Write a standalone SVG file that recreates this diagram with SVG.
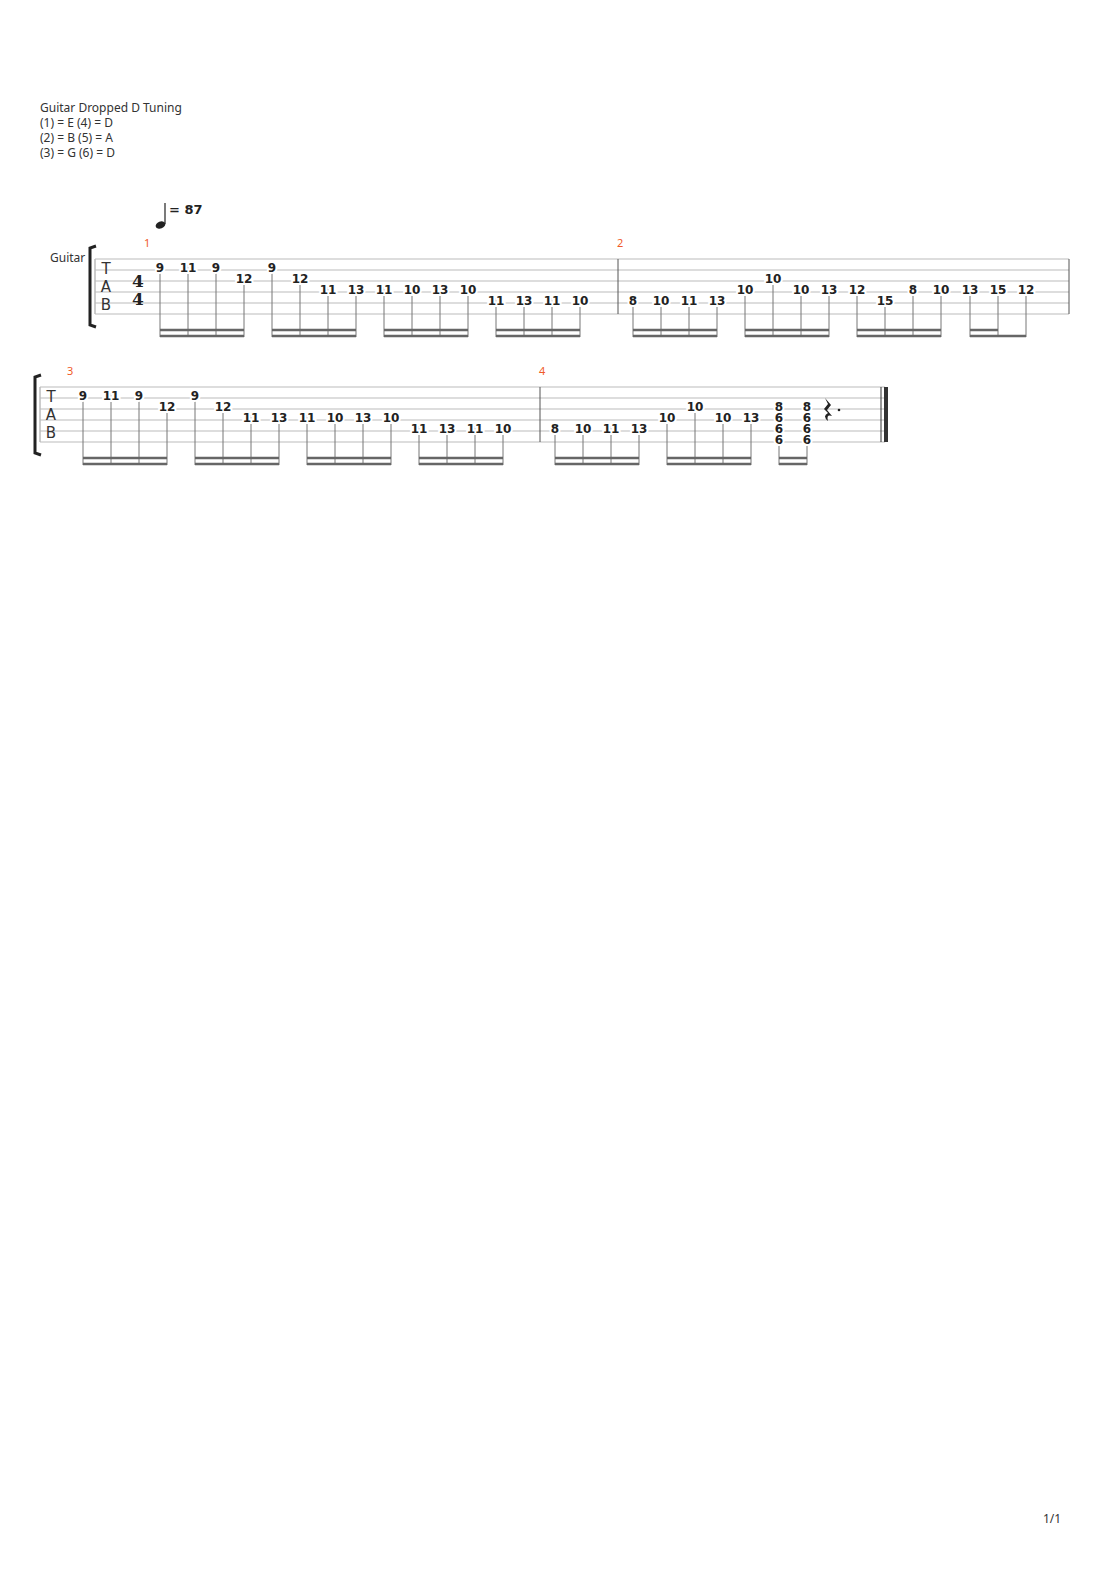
<svg xmlns="http://www.w3.org/2000/svg" width="1110" height="1570" viewBox="0 0 1110 1570">
<style>
.h{font-family:"Noto Sans","DejaVu Sans",sans-serif;font-size:12px;fill:#333}
.n{font-family:"DejaVu Sans",sans-serif;font-size:12px;font-weight:bold;fill:#222;text-anchor:middle;paint-order:stroke;stroke:#fff;stroke-width:4px}
.m{font-family:"Noto Sans",sans-serif;font-size:11px;fill:#f05a28}
.st line{stroke:#bbb;stroke-width:1}
.stem{stroke:#777;stroke-width:1}
.bm{stroke:#666;stroke-width:2.5}
.tab{font-family:"DejaVu Sans",sans-serif;font-size:15px;fill:#333;text-anchor:middle}
.ts{font-family:"DejaVu Serif",serif;font-size:17px;font-weight:bold;fill:#222;text-anchor:middle}
</style>
<rect width="1110" height="1570" fill="#fff"/>
<g id="header">
<text class="h" x="40" y="112">Guitar Dropped D Tuning</text>
<text class="h" x="40" y="127">(1) = E (4) = D</text>
<text class="h" x="40" y="142">(2) = B (5) = A</text>
<text class="h" x="40" y="157">(3) = G (6) = D</text>
<text class="h" x="1043" y="1523">1/1</text>
</g>
<g id="tempo">
<line x1="165" y1="203" x2="165" y2="224" stroke="#222" stroke-width="1.2"/>
<ellipse cx="160.5" cy="225" rx="5" ry="3.5" transform="rotate(-20 160.5 225)" fill="#222"/>
<text x="169" y="214" font-family="DejaVu Sans,sans-serif" font-size="13" font-weight="bold" fill="#222">= 87</text>
<text class="h" x="50" y="262">Guitar</text>
</g>
<g id="system1">
<path d="M96 246 L90 248 L90 325 L96 327" fill="none" stroke="#222" stroke-width="3"/>
<line x1="95" y1="259" x2="95" y2="314" stroke="#999"/>
<g class="st"><line x1="95" y1="259" x2="1069" y2="259"/><line x1="95" y1="270" x2="1069" y2="270"/><line x1="95" y1="281" x2="1069" y2="281"/><line x1="95" y1="292" x2="1069" y2="292"/><line x1="95" y1="303" x2="1069" y2="303"/><line x1="95" y1="314" x2="1069" y2="314"/></g>
<text class="tab" x="106" y="274">T</text><text class="tab" x="106" y="292">A</text><text class="tab" x="106" y="310">B</text>
<text class="ts" x="138" y="287">4</text><text class="ts" x="138" y="305">4</text>
<line x1="618" y1="259" x2="618" y2="314" stroke="#555"/>
<line x1="1069" y1="259" x2="1069" y2="314" stroke="#555"/>
<text class="m" x="144" y="247">1</text><text class="m" x="617" y="247">2</text>
</g>
<g id="system2">
<path d="M41 375 L35 377 L35 453 L41 455" fill="none" stroke="#222" stroke-width="3"/>
<line x1="40" y1="387" x2="40" y2="442" stroke="#999"/>
<g class="st"><line x1="40" y1="387" x2="885" y2="387"/><line x1="40" y1="398" x2="885" y2="398"/><line x1="40" y1="409" x2="885" y2="409"/><line x1="40" y1="420" x2="885" y2="420"/><line x1="40" y1="431" x2="885" y2="431"/><line x1="40" y1="442" x2="885" y2="442"/></g>
<text class="tab" x="51" y="402">T</text><text class="tab" x="51" y="420">A</text><text class="tab" x="51" y="438">B</text>
<line x1="540" y1="387" x2="540" y2="442" stroke="#555"/>
<line x1="881" y1="387" x2="881" y2="442" stroke="#333"/>
<rect x="884" y="387" width="4" height="55" fill="#333"/>
<text class="m" x="67" y="375">3</text><text class="m" x="539" y="375">4</text>
<path d="M825 398 L831 405 L827 410 L832 416 Q826 414 828 421 Q822 416 828 413 L824 409 L828 404 Z" fill="#222"/>
<circle cx="839" cy="410" r="1.3" fill="#222"/>
</g>
<g id="connectors">
<g class="stem">
<line x1="160" y1="265" x2="160" y2="337"/><line x1="188" y1="265" x2="188" y2="337"/><line x1="216" y1="265" x2="216" y2="337"/><line x1="244" y1="276" x2="244" y2="337"/>
<line x1="272" y1="265" x2="272" y2="337"/><line x1="300" y1="276" x2="300" y2="337"/><line x1="328" y1="287" x2="328" y2="337"/><line x1="356" y1="287" x2="356" y2="337"/>
<line x1="384" y1="287" x2="384" y2="337"/><line x1="412" y1="287" x2="412" y2="337"/><line x1="440" y1="287" x2="440" y2="337"/><line x1="468" y1="287" x2="468" y2="337"/>
<line x1="496" y1="298" x2="496" y2="337"/><line x1="524" y1="298" x2="524" y2="337"/><line x1="552" y1="298" x2="552" y2="337"/><line x1="580" y1="298" x2="580" y2="337"/>
<line x1="633" y1="298" x2="633" y2="337"/><line x1="661" y1="298" x2="661" y2="337"/><line x1="689" y1="298" x2="689" y2="337"/><line x1="717" y1="298" x2="717" y2="337"/>
<line x1="745" y1="287" x2="745" y2="337"/><line x1="773" y1="276" x2="773" y2="337"/><line x1="801" y1="287" x2="801" y2="337"/><line x1="829" y1="287" x2="829" y2="337"/>
<line x1="857" y1="287" x2="857" y2="337"/><line x1="885" y1="298" x2="885" y2="337"/><line x1="913" y1="287" x2="913" y2="337"/><line x1="941" y1="287" x2="941" y2="337"/>
<line x1="970" y1="287" x2="970" y2="337"/><line x1="998" y1="287" x2="998" y2="337"/><line x1="1026" y1="287" x2="1026" y2="337"/>
<line x1="83" y1="393" x2="83" y2="465"/><line x1="111" y1="393" x2="111" y2="465"/><line x1="139" y1="393" x2="139" y2="465"/><line x1="167" y1="404" x2="167" y2="465"/>
<line x1="195" y1="393" x2="195" y2="465"/><line x1="223" y1="404" x2="223" y2="465"/><line x1="251" y1="415" x2="251" y2="465"/><line x1="279" y1="415" x2="279" y2="465"/>
<line x1="307" y1="415" x2="307" y2="465"/><line x1="335" y1="415" x2="335" y2="465"/><line x1="363" y1="415" x2="363" y2="465"/><line x1="391" y1="415" x2="391" y2="465"/>
<line x1="419" y1="426" x2="419" y2="465"/><line x1="447" y1="426" x2="447" y2="465"/><line x1="475" y1="426" x2="475" y2="465"/><line x1="503" y1="426" x2="503" y2="465"/>
<line x1="555" y1="426" x2="555" y2="465"/><line x1="583" y1="426" x2="583" y2="465"/><line x1="611" y1="426" x2="611" y2="465"/><line x1="639" y1="426" x2="639" y2="465"/>
<line x1="667" y1="415" x2="667" y2="465"/><line x1="695" y1="404" x2="695" y2="465"/><line x1="723" y1="415" x2="723" y2="465"/><line x1="751" y1="415" x2="751" y2="465"/>
<line x1="779" y1="437" x2="779" y2="465"/><line x1="807" y1="437" x2="807" y2="465"/>
</g>
<g class="bm">
<line x1="160" y1="330" x2="244" y2="330"/><line x1="160" y1="336" x2="244" y2="336"/>
<line x1="272" y1="330" x2="356" y2="330"/><line x1="272" y1="336" x2="356" y2="336"/>
<line x1="384" y1="330" x2="468" y2="330"/><line x1="384" y1="336" x2="468" y2="336"/>
<line x1="496" y1="330" x2="580" y2="330"/><line x1="496" y1="336" x2="580" y2="336"/>
<line x1="633" y1="330" x2="717" y2="330"/><line x1="633" y1="336" x2="717" y2="336"/>
<line x1="745" y1="330" x2="829" y2="330"/><line x1="745" y1="336" x2="829" y2="336"/>
<line x1="857" y1="330" x2="941" y2="330"/><line x1="857" y1="336" x2="941" y2="336"/>
<line x1="970" y1="330" x2="998" y2="330"/><line x1="970" y1="336" x2="1026" y2="336"/>
<line x1="83" y1="458" x2="167" y2="458"/><line x1="83" y1="464" x2="167" y2="464"/>
<line x1="195" y1="458" x2="279" y2="458"/><line x1="195" y1="464" x2="279" y2="464"/>
<line x1="307" y1="458" x2="391" y2="458"/><line x1="307" y1="464" x2="391" y2="464"/>
<line x1="419" y1="458" x2="503" y2="458"/><line x1="419" y1="464" x2="503" y2="464"/>
<line x1="555" y1="458" x2="639" y2="458"/><line x1="555" y1="464" x2="639" y2="464"/>
<line x1="667" y1="458" x2="751" y2="458"/><line x1="667" y1="464" x2="751" y2="464"/>
<line x1="779" y1="458" x2="807" y2="458"/><line x1="779" y1="464" x2="807" y2="464"/>
</g>
</g>
<g id="frets">
<text class="n" x="160" y="272">9</text><text class="n" x="188" y="272">11</text><text class="n" x="216" y="272">9</text><text class="n" x="244" y="283">12</text>
<text class="n" x="272" y="272">9</text><text class="n" x="300" y="283">12</text><text class="n" x="328" y="294">11</text><text class="n" x="356" y="294">13</text>
<text class="n" x="384" y="294">11</text><text class="n" x="412" y="294">10</text><text class="n" x="440" y="294">13</text><text class="n" x="468" y="294">10</text>
<text class="n" x="496" y="305">11</text><text class="n" x="524" y="305">13</text><text class="n" x="552" y="305">11</text><text class="n" x="580" y="305">10</text>
<text class="n" x="633" y="305">8</text><text class="n" x="661" y="305">10</text><text class="n" x="689" y="305">11</text><text class="n" x="717" y="305">13</text>
<text class="n" x="745" y="294">10</text><text class="n" x="773" y="283">10</text><text class="n" x="801" y="294">10</text><text class="n" x="829" y="294">13</text>
<text class="n" x="857" y="294">12</text><text class="n" x="885" y="305">15</text><text class="n" x="913" y="294">8</text><text class="n" x="941" y="294">10</text>
<text class="n" x="970" y="294">13</text><text class="n" x="998" y="294">15</text><text class="n" x="1026" y="294">12</text>
<text class="n" x="83" y="400">9</text><text class="n" x="111" y="400">11</text><text class="n" x="139" y="400">9</text><text class="n" x="167" y="411">12</text>
<text class="n" x="195" y="400">9</text><text class="n" x="223" y="411">12</text><text class="n" x="251" y="422">11</text><text class="n" x="279" y="422">13</text>
<text class="n" x="307" y="422">11</text><text class="n" x="335" y="422">10</text><text class="n" x="363" y="422">13</text><text class="n" x="391" y="422">10</text>
<text class="n" x="419" y="433">11</text><text class="n" x="447" y="433">13</text><text class="n" x="475" y="433">11</text><text class="n" x="503" y="433">10</text>
<text class="n" x="555" y="433">8</text><text class="n" x="583" y="433">10</text><text class="n" x="611" y="433">11</text><text class="n" x="639" y="433">13</text>
<text class="n" x="667" y="422">10</text><text class="n" x="695" y="411">10</text><text class="n" x="723" y="422">10</text><text class="n" x="751" y="422">13</text>
<text class="n" x="779" y="411">8</text><text class="n" x="779" y="422">6</text><text class="n" x="779" y="433">6</text><text class="n" x="779" y="444">6</text>
<text class="n" x="807" y="411">8</text><text class="n" x="807" y="422">6</text><text class="n" x="807" y="433">6</text><text class="n" x="807" y="444">6</text>
</g>
</svg>
